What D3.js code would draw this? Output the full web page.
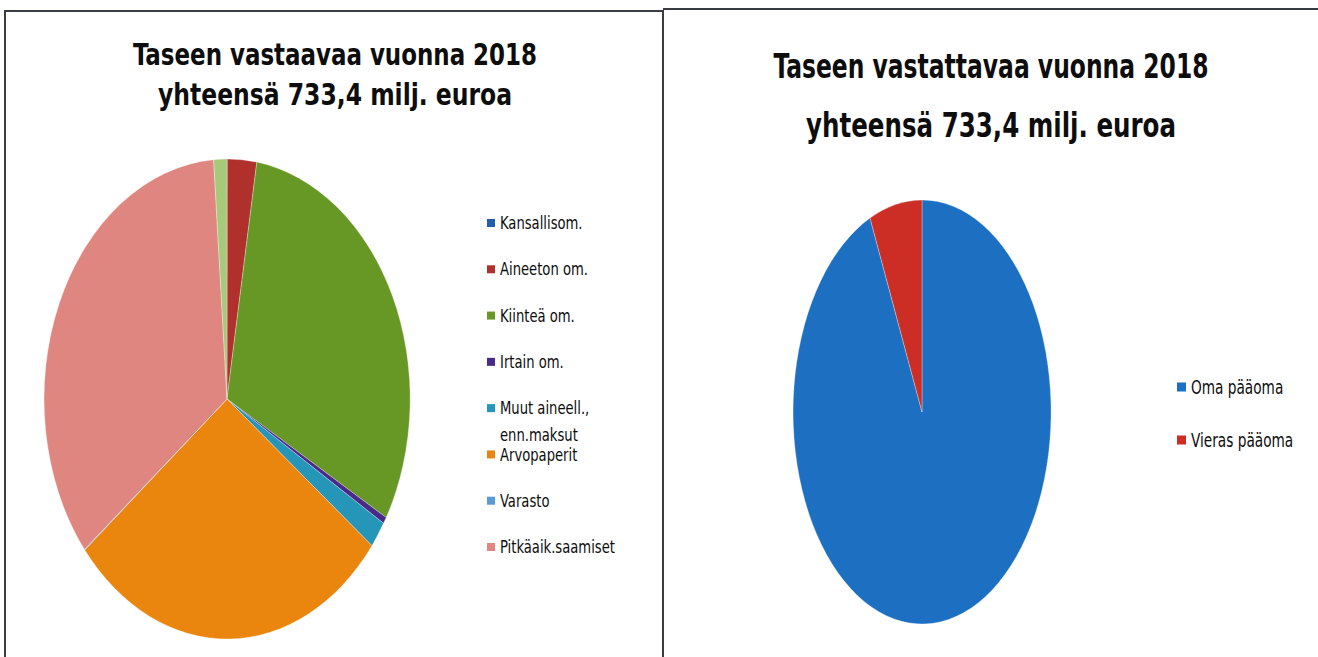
<!DOCTYPE html>
<html>
<head>
<meta charset="utf-8">
<script src="https://cdn.jsdelivr.net/npm/d3@7"></script>
<style>
  body { margin: 0; background: #fff; }
  svg text { font-family: 'Liberation Sans Narrow', 'DejaVu Sans Condensed', 'Liberation Sans', sans-serif; fill: #0d0d0d; }
</style>
</head>
<body>
<div id="chart"></div>
<script>
// values in milj. euroa
const assetLabels = ['Kansallisom.', 'Aineeton om.', 'Kiinteä om.', 'Irtain om.',
  ['Muut aineell.,', 'enn.maksut'], 'Arvopaperit', 'Varasto', 'Pitkäaik.saamiset'];
// 9th slice (light green) has no legend entry in the picture
const assetValues = [0.1, 19.0, 224.5, 3.3, 13.2, 210.5, 0.3, 254.0, 8.5];
const assetColours = ['#1f5fae', '#b0302c', '#679826', '#4a2a88', '#2596b8', '#ea860e', '#5b9bd5', '#e08680', '#a6ca7a'];

const liabLabels = ['Oma pääoma', 'Vieras pääoma'];
const liabValues = [685.0, 48.4];
const liabColours = ['#1c6fc1', '#cc2e26'];

const W = 1318, H = 657;

let svg = d3.select('#chart').append('svg')
  .attr('width', W).attr('height', H);

svg.append('rect').attr('width', W).attr('height', H).attr('fill', '#fff');

//panel frames
svg.append('path')
  .attr('d', 'M5,657 V11 H663 V657 M663,9 H1318')
  .attr('fill', 'none').attr('stroke', '#3a3d42').attr('stroke-width', 2);

//title helper
function title(x, lines) {
  lines.forEach(l => {
    svg.append('text')
      .attr('x', x).attr('y', l.y)
      .attr('text-anchor', 'middle')
      .attr('font-weight', 'bold')
      .attr('font-size', l.size)
      .attr('textLength', l.len)
      .attr('lengthAdjust', 'spacingAndGlyphs')
      .text(l.t);
  });
}

title(335, [
  {t: 'Taseen vastaavaa vuonna 2018', y: 65, size: 31, len: 404},
  {t: 'yhteensä 733,4 milj. euroa', y: 105, size: 31, len: 354}
]);
title(991, [
  {t: 'Taseen vastattavaa vuonna 2018', y: 78, size: 33, len: 435},
  {t: 'yhteensä  733,4 milj. euroa', y: 137, size: 33, len: 370}
]);

//elliptical pie: unit arcs scaled by rx, ry
function drawPie(values, colours, cx, cy, rx, ry) {
  const pie = d3.pie().sort(null).value(d => d);
  const arc = d3.arc().innerRadius(0).outerRadius(1);
  svg.append('g')
    .attr('transform', `translate(${cx},${cy}) scale(${rx},${ry})`)
    .selectAll('path')
    .data(pie(values))
    .enter()
    .append('path')
    .attr('d', arc)
    .attr('fill', (d, i) => colours[i])
    .attr('stroke', '#fff')
    .attr('stroke-width', 0.5)
    .attr('stroke-opacity', 0.6)
    .attr('vector-effect', 'non-scaling-stroke');
}

drawPie(assetValues, assetColours, 227, 399, 183, 240);
drawPie(liabValues, liabColours, 922, 412, 129, 212);

//legends (squeeze factor makes the wide fallback font look narrower)
function drawLegend(labels, colours, x, y0, y1, size, sq, squeeze) {
  const y = d3.scalePoint().domain(d3.range(labels.length)).range([y0, y1]);
  let g = svg.append('g');
  labels.forEach((lab, i) => {
    g.append('rect')
      .attr('x', x).attr('y', y(i) - sq / 2)
      .attr('width', sq).attr('height', sq)
      .attr('fill', colours[i]);
    let parts = Array.isArray(lab) ? lab : [lab];
    parts.forEach((p, j) => {
      let t = g.append('text')
        .attr('x', x + sq + 5).attr('y', y(i) + size * 0.36 + j * 27)
        .attr('font-size', size)
        .text(p);
      let w = t.node().getComputedTextLength();
      t.attr('textLength', w * squeeze).attr('lengthAdjust', 'spacingAndGlyphs');
    });
  });
}

drawLegend(assetLabels, assetColours, 487, 223, 547, 17, 8, 0.86);
drawLegend(liabLabels, liabColours, 1177, 387, 440, 19, 9, 0.8);
</script>
</body>
</html>
